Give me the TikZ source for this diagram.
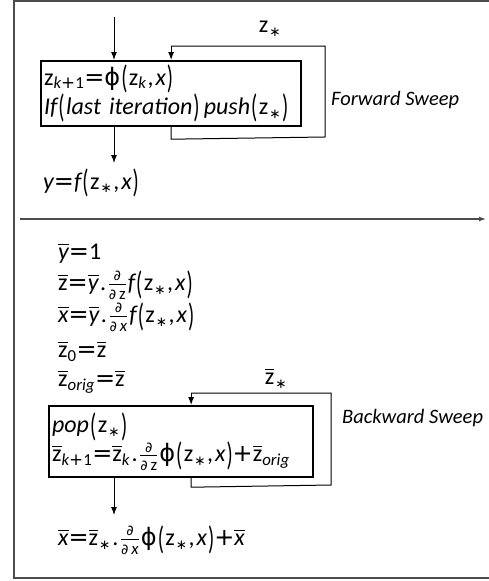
\documentclass[tikz,border=0pt]{standalone}
\usepackage{fontspec}
\usepackage{amsmath}
\usepackage{graphicx}
\setmainfont{Carlito}
\newfontfamily\symf{DejaVu Sans}
\usetikzlibrary{arrows.meta,calc}
\newcommand{\mv}[1]{\text{\itshape #1}}
\newcommand{\zz}{\text{z}}
\newcommand{\lp}{\text{\kern1pt\raisebox{-0.3ex}{\scalebox{0.85}[1.35]{(}}\kern1.5pt}}
\newcommand{\rp}{\text{\kern1pt\raisebox{-0.3ex}{\scalebox{0.85}[1.35]{)}}}}
\newcommand{\st}{\text{\kern1pt\symf\scalebox{0.8}{∗}}}
\newcommand{\ph}{\text{\symf ϕ}}
\newcommand{\eq}{\text{\symf=}}
\newcommand{\pl}{\text{\symf+}}
\newcommand{\cm}{\text{\kern1pt,\kern2pt}}
\newcommand{\dt}{\text{\kern1.5pt.\kern1.5pt}}
\newcommand{\bv}[1]{\overline{\mv{#1}}}
\newcommand{\bz}{\overline{\zz}}
\newcommand{\dd}[1]{\frac{\text{\symf\scalebox{0.85}{∂}}}{\text{\symf\scalebox{0.85}{∂}}\,#1}\kern1pt}
\tikzset{
  mtext/.style={font=\fontsize{24}{28}\selectfont, inner sep=1pt},
  lbl/.style={font=\fontsize{20.5}{24}\selectfont\itshape, inner sep=1pt},
  box/.style={draw=black, line width=2.2pt, align=left, inner sep=2pt, font=\fontsize{24}{28}\selectfont},
  loop/.style={draw=black, line width=1pt},
  arr/.style={draw=black, line width=1pt, -{Latex[length=8pt,width=6pt]}},
  frame/.style={draw=black!70, line width=1.4pt},
}
\begin{document}
\begin{tikzpicture}[x=1pt,y=-1pt]
\useasboundingbox (0,0) rectangle (489,581);
% frame
\draw[frame] (489,1) -- (14,1) -- (14,578) -- (489,578);
% forward
\coordinate (in1) at (114,17);
\node[box, anchor=north west, minimum width=260, minimum height=65, text width=254] (b1) at (40,60)
  {$\zz_{\mv{k}\text{\symf+}\text{1}}\eq\ph\lp\zz_{\mv{k}}\cm\mv{x}\rp$\\
   $\mv{If}\lp\mv{last iteration}\rp\,\mv{push}\lp\zz_{\st}\rp$};
\draw[arr] (in1) -- (in1 |- b1.north);
\coordinate (l1a) at ($(b1.south)+(0,12)$);
\coordinate (l1b) at (325,137);
\coordinate (l1c) at (325,46);
\coordinate (l1d) at ($(b1.north)+(0,-14)$);
\draw[loop] (b1.south) -- (l1a) -- (l1b) -- (l1c) -- (l1d);
\draw[arr] (l1d) -- (b1.north);
\node[mtext] (zs) at (270,29) {$\zz_{\st}$};
\node[lbl, anchor=west] (fs) at (330,100) {Forward Sweep};
\node[mtext, anchor=west] (yf) at (42,183) {$\mv{y}\eq\mv{f}\lp\zz_{\st}\cm\mv{x}\rp$};
\coordinate (o1) at (114,163);
\draw[arr] (b1.south -| in1) -- (o1);
% separator
\coordinate (s1) at (20,219);
\coordinate (s2) at (486,219);
\draw[frame, line width=1.2pt, -{Latex[length=7pt,width=5pt]}] (s1) -- (s2);
% backward
\node[mtext, anchor=west] (t1) at (57,253) {$\bv{y}\eq\text{1}$};
\node[mtext, anchor=west] (t2) at (57,285) {$\bz\eq\bv{y}\dt\dd{\zz}\mv{f}\lp\zz_{\st}\cm\mv{x}\rp$};
\node[mtext, anchor=west] (t3) at (57,317) {$\bv{x}\eq\bv{y}\dt\dd{\mv{x}}\mv{f}\lp\zz_{\st}\cm\mv{x}\rp$};
\node[mtext, anchor=west] (t4) at (57,351) {$\bz_{\text{0}}\eq\bz$};
\node[mtext, anchor=west] (t5) at (57,382) {$\bz_{\mv{orig}}\eq\bz$};
\node[mtext] (zbs) at (276,378) {$\bz_{\st}$};
\node[box, anchor=north west, minimum width=264, minimum height=71, text width=258] (b2) at (48,405)
  {$\mv{pop}\lp\zz_{\st}\rp$\\
   $\bz_{\mv{k}\text{\symf+}\text{1}}\eq\bz_{\mv{k}}\dt\dd{\zz}\ph\lp\zz_{\st}\cm\mv{x}\rp\pl\bz_{\mv{orig}}$};
\coordinate (l2s) at ($(b2.south)+(10,0)$);
\coordinate (l2n) at ($(b2.north)+(10,0)$);
\coordinate (l2a) at ($(l2s)+(0,9)$);
\coordinate (l2b) at (331,485);
\coordinate (l2c) at (331,393);
\coordinate (l2d) at ($(l2n)+(0,-12)$);
\draw[loop] (l2s) -- (l2a) -- (l2b) -- (l2c) -- (l2d);
\draw[arr] (l2d) -- (l2n);
\node[lbl, anchor=west] (bs) at (341,418) {Backward Sweep};
\coordinate (o2) at (114,515);
\draw[arr] (b2.south -| o2) -- (o2);
\node[mtext, anchor=west] (xf) at (57,540) {$\bv{x}\eq\bz_{\st}\dt\dd{\mv{x}}\ph\lp\zz_{\st}\cm\mv{x}\rp\pl\bv{x}$};
\end{tikzpicture}
\end{document}
